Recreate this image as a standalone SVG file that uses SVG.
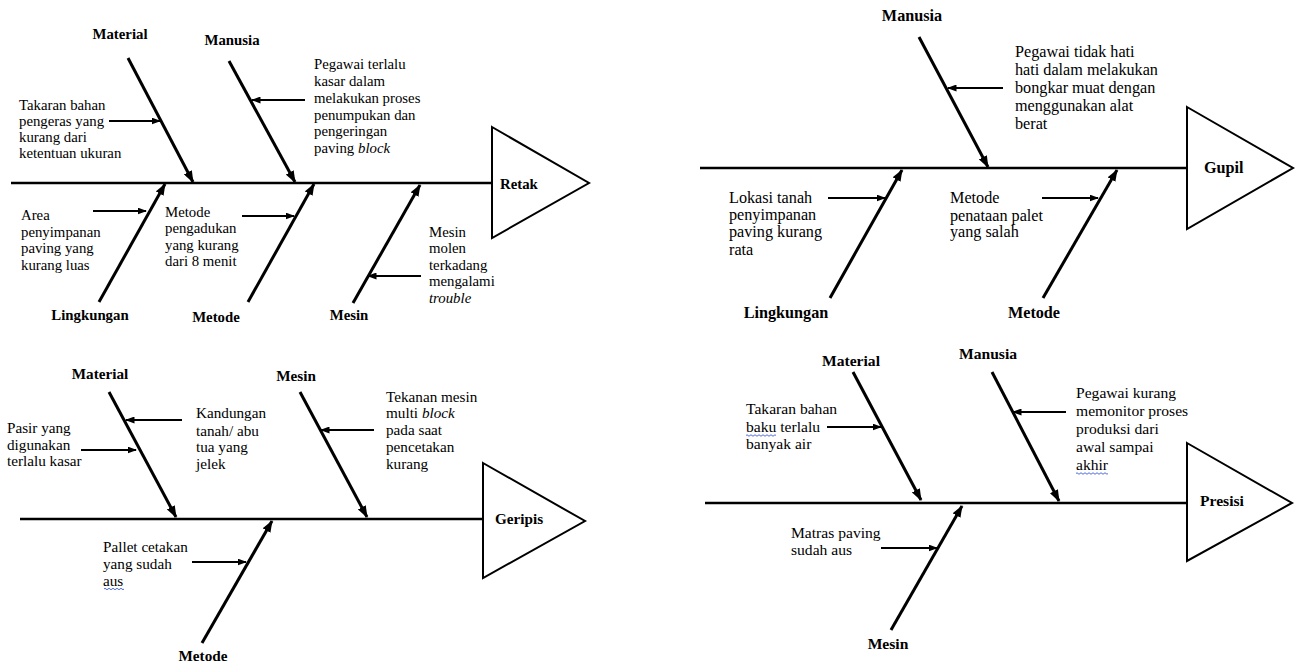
<svg xmlns="http://www.w3.org/2000/svg" width="1295" height="667" viewBox="0 0 1295 667">
<defs>
<marker id="big" markerUnits="userSpaceOnUse" markerWidth="12" markerHeight="9" refX="11" refY="4.5" orient="auto"><path d="M0,0 L12,4.5 L0,9 z" fill="#000"/></marker>
<marker id="small" markerUnits="userSpaceOnUse" markerWidth="10" markerHeight="7" refX="8.5" refY="3.5" orient="auto"><path d="M0,0 L9.5,3.5 L0,7 z" fill="#000"/></marker>
<style>
.lbl{font-weight:bold;text-anchor:middle}
.eff{font-weight:bold}
.d1 text{font-size:14.8px}
.d2 text{font-size:16.2px}
.d3 text{font-size:15.2px}
.d4 text{font-size:15.6px}
.bone{stroke:#000;stroke-width:3;fill:none;marker-end:url(#big)}
.spine{stroke:#000;stroke-width:2.5;fill:none}
.sub{stroke:#000;stroke-width:2;fill:none;marker-end:url(#small)}
.head{stroke:#000;stroke-width:2;fill:#fff}
.wavy{stroke:#3d5bd9;stroke-width:0.9;fill:none}
</style>
</defs>
<rect width="1295" height="667" fill="#fff"/>

<g id="connectors">
  <line class="spine" x1="11" y1="183" x2="492" y2="183"/>
  <line class="bone" x1="128" y1="58" x2="193" y2="182"/>
  <line class="bone" x1="229" y1="61" x2="295" y2="182"/>
  <line class="bone" x1="99" y1="302" x2="165" y2="184"/>
  <line class="bone" x1="248" y1="302" x2="314" y2="184"/>
  <line class="bone" x1="353" y1="303" x2="420" y2="185"/>
  <line class="sub" x1="109" y1="121" x2="160" y2="121"/>
  <line class="sub" x1="305" y1="100" x2="252" y2="100"/>
  <line class="sub" x1="93" y1="211" x2="146" y2="211"/>
  <line class="sub" x1="242" y1="216" x2="294" y2="216"/>
  <line class="sub" x1="421" y1="276" x2="368" y2="276"/>
  <line class="spine" x1="700" y1="168" x2="1187" y2="168"/>
  <line class="bone" x1="919" y1="37" x2="988" y2="167"/>
  <line class="bone" x1="830" y1="298" x2="902" y2="170"/>
  <line class="bone" x1="1043" y1="298" x2="1117" y2="170"/>
  <line class="sub" x1="1003" y1="88" x2="948" y2="88"/>
  <line class="sub" x1="828" y1="198" x2="885" y2="198"/>
  <line class="sub" x1="1042" y1="198" x2="1098" y2="198"/>
  <line class="spine" x1="20" y1="519" x2="483" y2="519"/>
  <line class="bone" x1="109" y1="392" x2="176" y2="517"/>
  <line class="bone" x1="300" y1="392" x2="367" y2="517"/>
  <line class="bone" x1="202" y1="643" x2="272" y2="521"/>
  <line class="sub" x1="182" y1="420" x2="126" y2="420"/>
  <line class="sub" x1="81" y1="450" x2="136" y2="450"/>
  <line class="sub" x1="192" y1="562" x2="246" y2="562"/>
  <line class="sub" x1="374" y1="430" x2="321" y2="430"/>
  <line class="spine" x1="705" y1="503" x2="1187" y2="503"/>
  <line class="bone" x1="853" y1="372" x2="921" y2="500"/>
  <line class="bone" x1="992" y1="372" x2="1059" y2="501"/>
  <line class="bone" x1="891" y1="630" x2="962" y2="506"/>
  <line class="sub" x1="827" y1="427" x2="881" y2="427"/>
  <line class="sub" x1="881" y1="548" x2="937" y2="548"/>
  <line class="sub" x1="1066" y1="412" x2="1013" y2="412"/>
</g>

<g font-family="'Liberation Serif', 'DejaVu Serif', 'Times New Roman', serif" fill="#000">
<g id="diagram-retak" class="d1">
  <g id="retak-head"><polygon class="head" points="492,127 589,183 492,238"/><text class="eff" x="500" y="189">Retak</text></g>
  <g id="retak-material"><text class="lbl" x="120" y="39">Material</text></g>
  <g id="retak-manusia"><text class="lbl" x="232" y="45">Manusia</text></g>
  <g id="retak-lingkungan"><text class="lbl" x="90" y="320">Lingkungan</text></g>
  <g id="retak-metode"><text class="lbl" x="216" y="322">Metode</text></g>
  <g id="retak-mesin"><text class="lbl" x="349" y="320">Mesin</text></g>
  <g id="retak-c1"><text x="19" y="110">Takaran bahan</text><text x="19" y="126">pengeras yang</text><text x="19" y="142">kurang dari</text><text x="19" y="158">ketentuan ukuran</text></g>
  <g id="retak-c2"><text x="314" y="69">Pegawai terlalu</text><text x="314" y="86">kasar dalam</text><text x="314" y="103">melakukan proses</text><text x="314" y="120">penumpukan dan</text><text x="314" y="136">pengeringan</text><text x="314" y="153">paving <tspan font-style="italic">block</tspan></text></g>
  <g id="retak-c3"><text x="21" y="220">Area</text><text x="21" y="237">penyimpanan</text><text x="21" y="253">paving yang</text><text x="21" y="270">kurang luas</text></g>
  <g id="retak-c4"><text x="165" y="217">Metode</text><text x="165" y="233">pengadukan</text><text x="165" y="250">yang kurang</text><text x="165" y="266">dari 8 menit</text></g>
  <g id="retak-c5"><text x="429" y="237">Mesin</text><text x="429" y="253">molen</text><text x="429" y="270">terkadang</text><text x="429" y="286">mengalami</text><text x="429" y="303" font-style="italic">trouble</text></g>
</g>

<g id="diagram-gupil" class="d2">
  <g id="gupil-head"><polygon class="head" points="1187,107 1293,168 1187,229"/><text class="eff" x="1204" y="173">Gupil</text></g>
  <g id="gupil-manusia"><text class="lbl" x="912" y="21">Manusia</text></g>
  <g id="gupil-lingkungan"><text class="lbl" x="786" y="318">Lingkungan</text></g>
  <g id="gupil-metode"><text class="lbl" x="1034" y="318">Metode</text></g>
  <g id="gupil-c1"><text x="1015" y="57">Pegawai tidak hati</text><text x="1015" y="75">hati dalam melakukan</text><text x="1015" y="93">bongkar muat dengan</text><text x="1015" y="111">menggunakan alat</text><text x="1015" y="129">berat</text></g>
  <g id="gupil-c2"><text x="729" y="203">Lokasi tanah</text><text x="729" y="220">penyimpanan</text><text x="729" y="237">paving kurang</text><text x="729" y="255">rata</text></g>
  <g id="gupil-c3"><text x="950" y="203">Metode</text><text x="950" y="221">penataan palet</text><text x="950" y="237">yang salah</text></g>
</g>

<g id="diagram-geripis" class="d3">
  <g id="geripis-head"><polygon class="head" points="483,463 585,521 483,578"/><text class="eff" x="495" y="524">Geripis</text></g>
  <g id="geripis-material"><text class="lbl" x="100" y="379">Material</text></g>
  <g id="geripis-mesin"><text class="lbl" x="296" y="381">Mesin</text></g>
  <g id="geripis-metode"><text class="lbl" x="203" y="661">Metode</text></g>
  <g id="geripis-c1"><text x="196" y="418">Kandungan</text><text x="196" y="436">tanah/ abu</text><text x="196" y="452">tua yang</text><text x="196" y="469">jelek</text></g>
  <g id="geripis-c2"><text x="7" y="433">Pasir yang</text><text x="7" y="450">digunakan</text><text x="7" y="466">terlalu kasar</text></g>
  <g id="geripis-c3"><text x="103" y="552">Pallet cetakan</text><text x="103" y="569">yang sudah</text><text x="103" y="586">aus</text>
    <path class="wavy" d="M104 589 q1 -1.5 2 0 t2 0 t2 0 t2 0 t2 0 t2 0 t2 0 t2 0 t2 0 t2 0"/></g>
  <g id="geripis-c4"><text x="386" y="402">Tekanan mesin</text><text x="386" y="418">multi <tspan font-style="italic">block</tspan></text><text x="386" y="435">pada saat</text><text x="386" y="452">pencetakan</text><text x="386" y="469">kurang</text></g>
</g>

<g id="diagram-presisi" class="d4">
  <g id="presisi-head"><polygon class="head" points="1187,443 1292,503 1187,561"/><text class="eff" x="1200" y="506">Presisi</text></g>
  <g id="presisi-material"><text class="lbl" x="851" y="366">Material</text></g>
  <g id="presisi-manusia"><text class="lbl" x="988" y="359">Manusia</text></g>
  <g id="presisi-mesin"><text class="lbl" x="888" y="649">Mesin</text></g>
  <g id="presisi-c1"><text x="746" y="414">Takaran bahan</text><text x="746" y="432">baku terlalu</text><text x="746" y="449">banyak air</text>
    <path class="wavy" d="M746 435.5 q1 -1.5 2 0 t2 0 t2 0 t2 0 t2 0 t2 0 t2 0 t2 0 t2 0 t2 0 t2 0 t2 0 t2 0 t2 0 t2 0"/></g>
  <g id="presisi-c2"><text x="791" y="538">Matras paving</text><text x="791" y="555">sudah aus</text></g>
  <g id="presisi-c3"><text x="1076" y="398">Pegawai kurang</text><text x="1076" y="416">memonitor proses</text><text x="1076" y="434">produksi dari</text><text x="1076" y="452">awal sampai</text><text x="1076" y="470">akhir</text>
    <path class="wavy" d="M1076 473.5 q1 -1.5 2 0 t2 0 t2 0 t2 0 t2 0 t2 0 t2 0 t2 0 t2 0 t2 0 t2 0 t2 0 t2 0 t2 0 t2 0 t2 0"/></g>
</g>
</g>
</svg>
